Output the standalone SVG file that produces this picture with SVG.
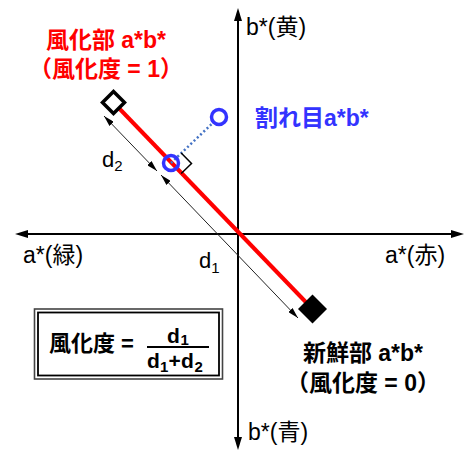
<svg xmlns="http://www.w3.org/2000/svg" width="472" height="452" viewBox="0 0 472 452">
<style>
text{font-family:"Liberation Sans","Noto Sans CJK JP",sans-serif;}
.b{font-weight:bold;}
.lbl{font-size:23px;fill:#000;}
.title{font-size:23px;font-weight:bold;}
.red{fill:#ff0000;}
.blue{fill:#3333ff;}
.dim{stroke:#222;stroke-width:1;fill:none;}
.axis{stroke:#000;stroke-width:2;fill:none;}
.fr{font-size:21px;font-weight:bold;}
.sub{font-size:15px;font-weight:bold;}
.dl{font-size:22px;}
.dls{font-size:15px;}
</style>
<defs>
<marker id="axArrow" markerUnits="userSpaceOnUse" markerWidth="14" markerHeight="8" refX="3" refY="4" orient="auto-start-reverse">
<path d="M0,0 L13,4 L0,8 z" fill="#000"/>
</marker>
<marker id="dimArrow" markerUnits="userSpaceOnUse" markerWidth="12" markerHeight="6" refX="11" refY="3" orient="auto-start-reverse">
<path d="M0,0 L11,3 L0,6 z" fill="#000"/>
</marker>
</defs>
<rect width="472" height="452" fill="#fff"/>
<g id="axes">
<line class="axis" x1="238" y1="440" x2="238" y2="18" marker-start="url(#axArrow)" marker-end="url(#axArrow)"/>
<line class="axis" x1="25" y1="234" x2="454" y2="234" marker-start="url(#axArrow)" marker-end="url(#axArrow)"/>
<text class="lbl" x="246" y="35">b*(黄)</text>
<text class="lbl" x="248" y="440">b*(青)</text>
<text class="lbl" x="23" y="263">a*(緑)</text>
<text class="lbl" x="385" y="263">a*(赤)</text>
</g>
<g id="connectors">
<line x1="113.5" y1="102.5" x2="312.5" y2="309" stroke="#ff0000" stroke-width="4"/>
<line x1="171" y1="163" x2="219" y2="117" stroke="#4472c4" stroke-width="2.5" stroke-dasharray="2 2.5"/>
<polyline points="181.2,153 191.5,163.5 181.2,173.5" fill="none" stroke="#000" stroke-width="1.5"/>
<line class="dim" x1="104" y1="116" x2="157" y2="171" marker-start="url(#dimArrow)" marker-end="url(#dimArrow)"/>
<line class="dim" x1="161" y1="175" x2="298" y2="318" marker-start="url(#dimArrow)" marker-end="url(#dimArrow)"/>
<text class="dl" x="102" y="167">d<tspan class="dls" dy="4">2</tspan></text>
<text class="dl" x="199" y="268">d<tspan class="dls" dy="5">1</tspan></text>
</g>
<g id="weathered">
<path d="M113.5,91.5 L124.5,102.5 L113.5,113.5 L102.5,102.5 z" fill="#fff" stroke="#000" stroke-width="3.5"/>
<text class="title red" x="106" y="48" text-anchor="middle">風化部 a*b*</text>
<text class="title red" x="106" y="77" text-anchor="middle">（風化度 = 1）</text>
</g>
<g id="fresh">
<path d="M312.5,294.5 L327,309 L312.5,323.5 L298,309 z" fill="#000"/>
<text class="title" x="363" y="361" text-anchor="middle">新鮮部 a*b*</text>
<text class="title" x="363" y="391" text-anchor="middle">（風化度 = 0）</text>
</g>
<g id="foot">
<circle cx="171" cy="163" r="7.5" fill="none" stroke="#3333ff" stroke-width="3.5"/>
</g>
<g id="crack">
<circle cx="219" cy="117" r="7.5" fill="#fff" stroke="#3333ff" stroke-width="3.5"/>
<text class="title blue" x="255" y="126">割れ目a*b*</text>
</g>
<g id="formula">
<rect x="34.5" y="309" width="188" height="70" fill="#fff" stroke="#444" stroke-width="1.6"/>
<rect x="38" y="312.5" width="181" height="63" fill="none" stroke="#000" stroke-width="1.8"/>
<text class="b" font-size="22" x="49" y="351">風化度 =</text>
<text class="fr" x="167" y="343">d</text>
<text class="sub" x="180.5" y="345">1</text>
<line x1="147" y1="347" x2="209" y2="347" stroke="#000" stroke-width="2"/>
<text class="fr" x="147" y="368">d</text>
<text class="sub" x="160" y="372">1</text>
<text class="fr" x="168.5" y="368">+</text>
<text class="fr" x="181" y="368">d</text>
<text class="sub" x="194.5" y="372">2</text>
</g>
</svg>
